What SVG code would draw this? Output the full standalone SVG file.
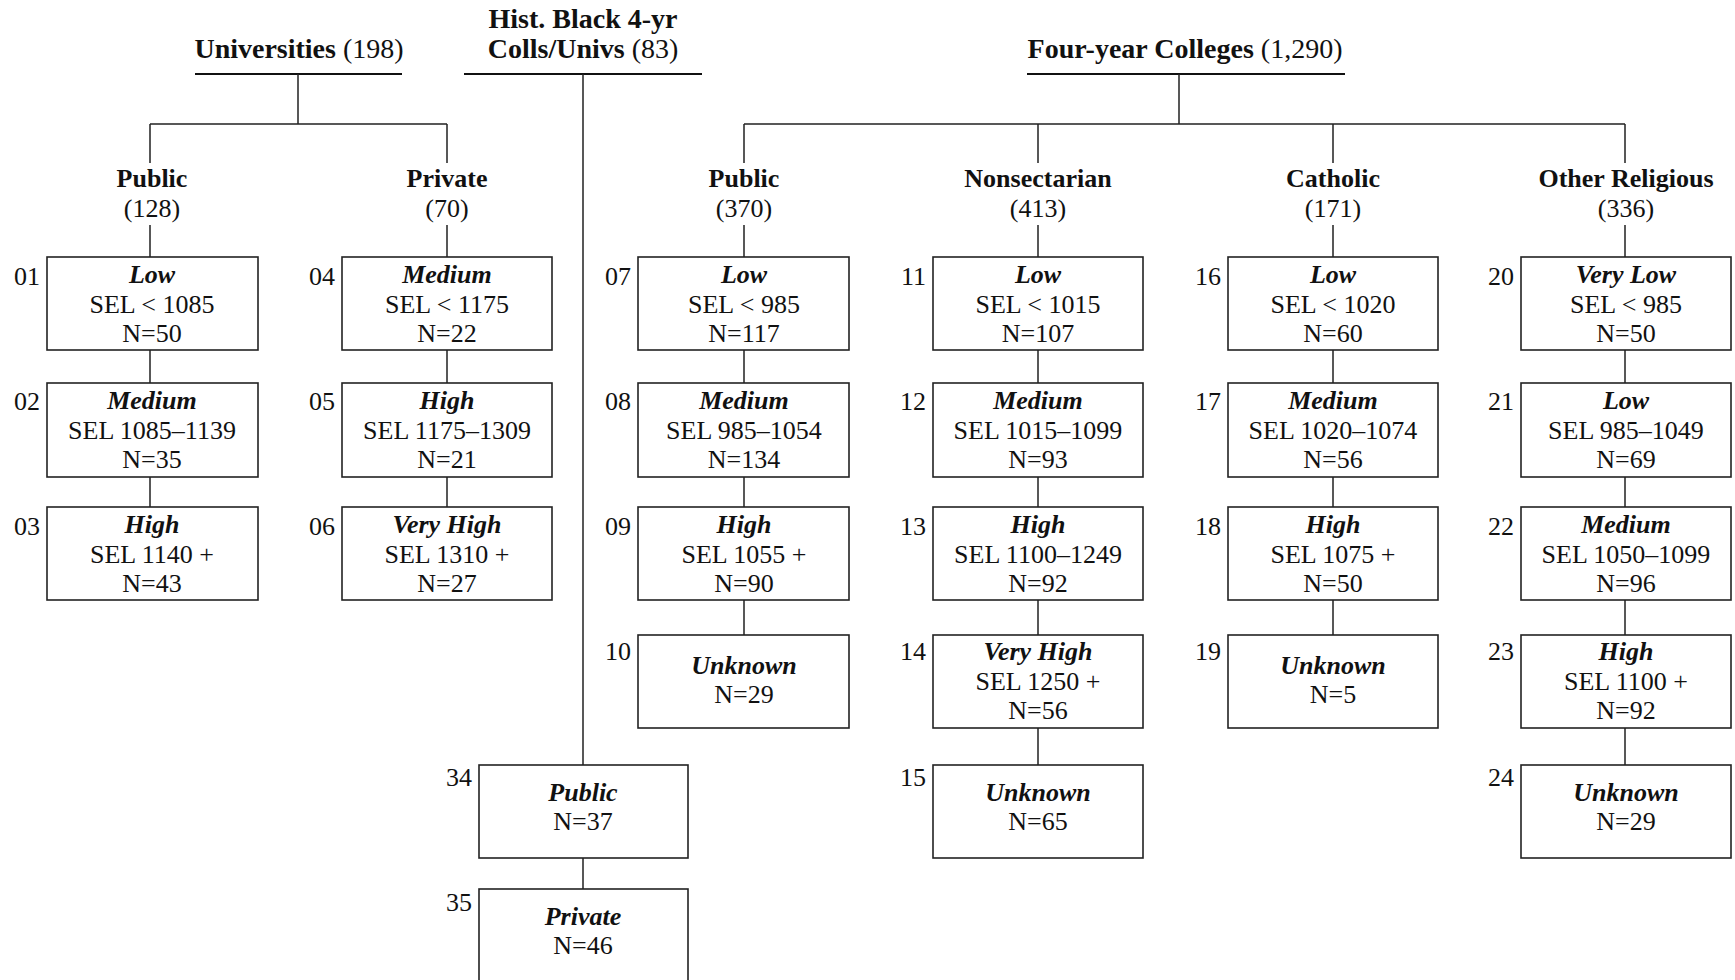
<svg xmlns="http://www.w3.org/2000/svg" width="1735" height="980" viewBox="0 0 1735 980">
<style>
text{font-family:"Liberation Serif","Times New Roman",serif;fill:#111;}
.t{font-size:28px;font-weight:bold;text-anchor:middle;}
.h{font-size:26px;text-anchor:middle;}
.b{font-weight:bold;}
.n{font-weight:normal;}
.bx{fill:#fff;stroke:#222;stroke-width:1.6;}
.c{font-size:26px;text-anchor:middle;}
.bi{font-weight:bold;font-style:italic;}
.lb{font-size:26px;text-anchor:end;}
.ln{fill:none;stroke:#222;stroke-width:1.5;}
.ul{fill:none;stroke:#111;stroke-width:2;}
</style>
<rect width="1735" height="980" fill="#fff"/>
<g id="connectors">
<path class="ul" d="M195 74H402M464 74H702M1027 74H1345"/>
<path class="ln" d="M298 74V124M150 124H447M150 124V163M447 124V163M150 225V257M447 225V257"/>
<path class="ln" d="M150 350V383M150 477V507M447 350V383M447 477V507"/>
<path class="ln" d="M583 74V765M583 858V889"/>
<path class="ln" d="M1179 74V124M744 124H1625M744 124V163M1038 124V163M1333 124V163M1625 124V163M744 225V257M1038 225V257M1333 225V257M1625 225V257"/>
<path class="ln" d="M744 350V383M744 477V507M744 600V635"/>
<path class="ln" d="M1038 350V383M1038 477V507M1038 600V635M1038 728V765"/>
<path class="ln" d="M1333 350V383M1333 477V507M1333 600V635"/>
<path class="ln" d="M1625 350V383M1625 477V507M1625 600V635M1625 728V765"/>
</g>
<g id="universities"><text class="t" x="299" y="58">Universities <tspan class="n">(198)</tspan></text></g>
<g id="hbcu"><text class="t" x="583" y="28">Hist. Black 4-yr</text><text class="t" x="583" y="58">Colls/Univs <tspan class="n">(83)</tspan></text></g>
<g id="fouryear"><text class="t" x="1185" y="58">Four-year Colleges <tspan class="n">(1,290)</tspan></text></g>
<g id="uni-public"><text class="h b" x="152" y="187">Public</text><text class="h" x="152" y="217">(128)</text></g>
<g id="uni-private"><text class="h b" x="447" y="187">Private</text><text class="h" x="447" y="217">(70)</text></g>
<g id="fy-public"><text class="h b" x="744" y="187">Public</text><text class="h" x="744" y="217">(370)</text></g>
<g id="fy-nonsect"><text class="h b" x="1038" y="187">Nonsectarian</text><text class="h" x="1038" y="217">(413)</text></g>
<g id="fy-catholic"><text class="h b" x="1333" y="187">Catholic</text><text class="h" x="1333" y="217">(171)</text></g>
<g id="fy-other"><text class="h b" x="1626" y="187">Other Religious</text><text class="h" x="1626" y="217">(336)</text></g>

<g id="n01"><rect class="bx" x="47" y="257" width="211" height="93"/><text class="lb" x="40" y="285">01</text><text class="c" x="152" y="283"><tspan class="bi">Low</tspan><tspan x="152" dy="30">SEL &lt; 1085</tspan><tspan x="152" dy="29">N=50</tspan></text></g>
<g id="n02"><rect class="bx" x="47" y="383" width="211" height="94"/><text class="lb" x="40" y="410">02</text><text class="c" x="152" y="409"><tspan class="bi">Medium</tspan><tspan x="152" dy="30">SEL 1085–1139</tspan><tspan x="152" dy="29">N=35</tspan></text></g>
<g id="n03"><rect class="bx" x="47" y="507" width="211" height="93"/><text class="lb" x="40" y="535">03</text><text class="c" x="152" y="533"><tspan class="bi">High</tspan><tspan x="152" dy="30">SEL 1140 +</tspan><tspan x="152" dy="29">N=43</tspan></text></g>

<g id="n04"><rect class="bx" x="342" y="257" width="210" height="93"/><text class="lb" x="335" y="285">04</text><text class="c" x="447" y="283"><tspan class="bi">Medium</tspan><tspan x="447" dy="30">SEL &lt; 1175</tspan><tspan x="447" dy="29">N=22</tspan></text></g>
<g id="n05"><rect class="bx" x="342" y="383" width="210" height="94"/><text class="lb" x="335" y="410">05</text><text class="c" x="447" y="409"><tspan class="bi">High</tspan><tspan x="447" dy="30">SEL 1175–1309</tspan><tspan x="447" dy="29">N=21</tspan></text></g>
<g id="n06"><rect class="bx" x="342" y="507" width="210" height="93"/><text class="lb" x="335" y="535">06</text><text class="c" x="447" y="533"><tspan class="bi">Very High</tspan><tspan x="447" dy="30">SEL 1310 +</tspan><tspan x="447" dy="29">N=27</tspan></text></g>

<g id="n07"><rect class="bx" x="638" y="257" width="211" height="93"/><text class="lb" x="631" y="285">07</text><text class="c" x="744" y="283"><tspan class="bi">Low</tspan><tspan x="744" dy="30">SEL &lt; 985</tspan><tspan x="744" dy="29">N=117</tspan></text></g>
<g id="n08"><rect class="bx" x="638" y="383" width="211" height="94"/><text class="lb" x="631" y="410">08</text><text class="c" x="744" y="409"><tspan class="bi">Medium</tspan><tspan x="744" dy="30">SEL 985–1054</tspan><tspan x="744" dy="29">N=134</tspan></text></g>
<g id="n09"><rect class="bx" x="638" y="507" width="211" height="93"/><text class="lb" x="631" y="535">09</text><text class="c" x="744" y="533"><tspan class="bi">High</tspan><tspan x="744" dy="30">SEL 1055 +</tspan><tspan x="744" dy="29">N=90</tspan></text></g>
<g id="n10"><rect class="bx" x="638" y="635" width="211" height="93"/><text class="lb" x="631" y="660">10</text><text class="c" x="744" y="674"><tspan class="bi">Unknown</tspan><tspan x="744" dy="29">N=29</tspan></text></g>

<g id="n11"><rect class="bx" x="933" y="257" width="210" height="93"/><text class="lb" x="926" y="285">11</text><text class="c" x="1038" y="283"><tspan class="bi">Low</tspan><tspan x="1038" dy="30">SEL &lt; 1015</tspan><tspan x="1038" dy="29">N=107</tspan></text></g>
<g id="n12"><rect class="bx" x="933" y="383" width="210" height="94"/><text class="lb" x="926" y="410">12</text><text class="c" x="1038" y="409"><tspan class="bi">Medium</tspan><tspan x="1038" dy="30">SEL 1015–1099</tspan><tspan x="1038" dy="29">N=93</tspan></text></g>
<g id="n13"><rect class="bx" x="933" y="507" width="210" height="93"/><text class="lb" x="926" y="535">13</text><text class="c" x="1038" y="533"><tspan class="bi">High</tspan><tspan x="1038" dy="30">SEL 1100–1249</tspan><tspan x="1038" dy="29">N=92</tspan></text></g>
<g id="n14"><rect class="bx" x="933" y="635" width="210" height="93"/><text class="lb" x="926" y="660">14</text><text class="c" x="1038" y="660"><tspan class="bi">Very High</tspan><tspan x="1038" dy="30">SEL 1250 +</tspan><tspan x="1038" dy="29">N=56</tspan></text></g>
<g id="n15"><rect class="bx" x="933" y="765" width="210" height="93"/><text class="lb" x="926" y="786">15</text><text class="c" x="1038" y="801"><tspan class="bi">Unknown</tspan><tspan x="1038" dy="29">N=65</tspan></text></g>

<g id="n16"><rect class="bx" x="1228" y="257" width="210" height="93"/><text class="lb" x="1221" y="285">16</text><text class="c" x="1333" y="283"><tspan class="bi">Low</tspan><tspan x="1333" dy="30">SEL &lt; 1020</tspan><tspan x="1333" dy="29">N=60</tspan></text></g>
<g id="n17"><rect class="bx" x="1228" y="383" width="210" height="94"/><text class="lb" x="1221" y="410">17</text><text class="c" x="1333" y="409"><tspan class="bi">Medium</tspan><tspan x="1333" dy="30">SEL 1020–1074</tspan><tspan x="1333" dy="29">N=56</tspan></text></g>
<g id="n18"><rect class="bx" x="1228" y="507" width="210" height="93"/><text class="lb" x="1221" y="535">18</text><text class="c" x="1333" y="533"><tspan class="bi">High</tspan><tspan x="1333" dy="30">SEL 1075 +</tspan><tspan x="1333" dy="29">N=50</tspan></text></g>
<g id="n19"><rect class="bx" x="1228" y="635" width="210" height="93"/><text class="lb" x="1221" y="660">19</text><text class="c" x="1333" y="674"><tspan class="bi">Unknown</tspan><tspan x="1333" dy="29">N=5</tspan></text></g>

<g id="n20"><rect class="bx" x="1521" y="257" width="210" height="93"/><text class="lb" x="1514" y="285">20</text><text class="c" x="1626" y="283"><tspan class="bi">Very Low</tspan><tspan x="1626" dy="30">SEL &lt; 985</tspan><tspan x="1626" dy="29">N=50</tspan></text></g>
<g id="n21"><rect class="bx" x="1521" y="383" width="210" height="94"/><text class="lb" x="1514" y="410">21</text><text class="c" x="1626" y="409"><tspan class="bi">Low</tspan><tspan x="1626" dy="30">SEL 985–1049</tspan><tspan x="1626" dy="29">N=69</tspan></text></g>
<g id="n22"><rect class="bx" x="1521" y="507" width="210" height="93"/><text class="lb" x="1514" y="535">22</text><text class="c" x="1626" y="533"><tspan class="bi">Medium</tspan><tspan x="1626" dy="30">SEL 1050–1099</tspan><tspan x="1626" dy="29">N=96</tspan></text></g>
<g id="n23"><rect class="bx" x="1521" y="635" width="210" height="93"/><text class="lb" x="1514" y="660">23</text><text class="c" x="1626" y="660"><tspan class="bi">High</tspan><tspan x="1626" dy="30">SEL 1100 +</tspan><tspan x="1626" dy="29">N=92</tspan></text></g>
<g id="n24"><rect class="bx" x="1521" y="765" width="210" height="93"/><text class="lb" x="1514" y="786">24</text><text class="c" x="1626" y="801"><tspan class="bi">Unknown</tspan><tspan x="1626" dy="29">N=29</tspan></text></g>

<g id="n34"><rect class="bx" x="479" y="765" width="209" height="93"/><text class="lb" x="472" y="786">34</text><text class="c" x="583" y="801"><tspan class="bi">Public</tspan><tspan x="583" dy="29">N=37</tspan></text></g>
<g id="n35"><rect class="bx" x="479" y="889" width="209" height="110"/><text class="lb" x="472" y="911">35</text><text class="c" x="583" y="925"><tspan class="bi">Private</tspan><tspan x="583" dy="29">N=46</tspan></text></g>
</svg>
